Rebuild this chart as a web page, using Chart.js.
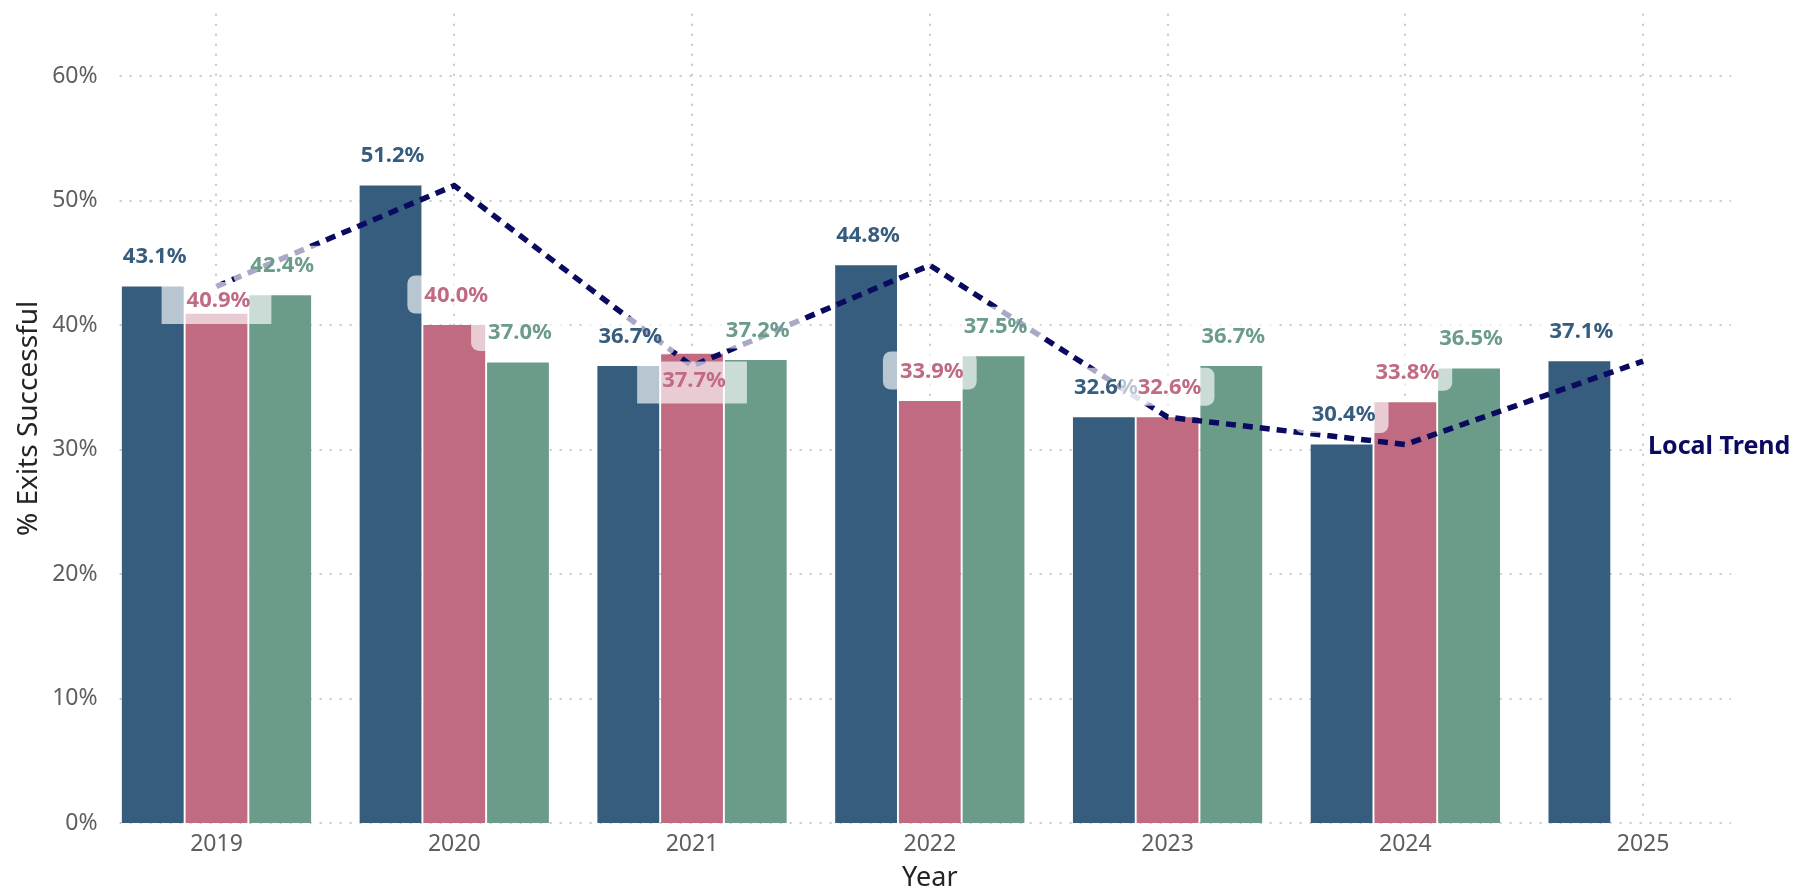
<!DOCTYPE html>
<html>
<head>
<meta charset="utf-8">
<script src="https://cdn.jsdelivr.net/npm/chart.js@4.4.1/dist/chart.umd.min.js"></script>
<style>
  html, body { margin: 0; padding: 0; background: #ffffff; }
  #wrap { width: 1797px; height: 895px; position: relative; }
</style>
</head>
<body>
<div id="wrap"><canvas id="c" width="1797" height="895"></canvas></div>
<script>
// ---- data ----
const years = ['2019', '2020', '2021', '2022', '2023', '2024', '2025'];
const seriesBlue  = [43.1, 51.2, 36.7, 44.8, 32.6, 30.4, 37.1];
const seriesPink  = [40.9, 40.0, 37.7, 33.9, 32.6, 33.8, null];
const seriesGreen = [42.4, 37.0, 37.2, 37.5, 36.7, 36.5, null];
const localTrend  = [43.1, 51.2, 36.7, 44.8, 32.6, 30.4, 37.1];
const yTicks = [0, 10, 20, 30, 40, 50, 60];
const trendName = 'Local Trend';
const yTitle = '% Exits Successful';
const xTitle = 'Year';

// ---- styles ----
const BLUE = '#365C7E', PINK = '#C06B82', GREEN = '#6B9B89', NAVY = '#0A0A60';
const FONT = '"Noto Sans", "Open Sans", sans-serif';
const barColors = [BLUE, PINK, GREEN];

const gridPlugin = {
  id: 'dotGrid',
  beforeDatasetsDraw(chart) {
    const { ctx, chartArea, scales: { x, y } } = chart;
    ctx.save();
    ctx.strokeStyle = '#C8C8C8';
    ctx.lineWidth = 2;
    ctx.setLineDash([2, 8]);
    const x0 = x.left + 22, x1 = x.right - 31;
    yTicks.forEach(v => {
      const py = Math.round(y.getPixelForValue(v));
      ctx.beginPath(); ctx.moveTo(x0, py); ctx.lineTo(x1, py); ctx.stroke();
    });
    years.forEach((_, i) => {
      const px = Math.round(x.getPixelForValue(i));
      ctx.beginPath(); ctx.moveTo(px, chartArea.top); ctx.lineTo(px, chartArea.bottom); ctx.stroke();
    });
    ctx.restore();
  }
};

const labelPlugin = {
  id: 'barLabels',
  afterDatasetsDraw(chart) {
    const ctx = chart.ctx;
    ctx.save();
    ctx.font = 'bold 22px ' + FONT;
    ctx.textAlign = 'center';
    ctx.textBaseline = 'middle';
    const barSets = [1, 2, 3];
    years.forEach((_, i) => {
      const placed = [];
      barSets.forEach((di, k) => {
        const v = chart.data.datasets[di].data[i];
        if (v == null) return;
        const el = chart.getDatasetMeta(di).data[i];
        let cy = el.y - 30.5;
        let moved = false;
        const prev = placed[placed.length - 1];
        if (prev && prev.k === k - 1) {
          const dy = Math.abs(cy - prev.y);
          if (dy > 3 && dy < 30) { cy = prev.y + 44; moved = true; }
        }
        placed.push({ k, y: cy });
        const text = v.toFixed(1) + '%';
        const tw = ctx.measureText(text).width;
        const bw = moved ? tw + 46 : tw + 30;
        const bh = moved ? 42 : 38;
        ctx.fillStyle = 'rgba(255,255,255,0.65)';
        ctx.beginPath();
        ctx.roundRect(el.x - bw / 2, cy - bh / 2 + (moved ? 3 : 0), bw, bh, moved ? 0 : 8);
        ctx.fill();
        ctx.fillStyle = barColors[k];
        ctx.fillText(text, el.x + 2, cy + 1);
      });
    });
    // series name at the end of the trend line
    const lineMeta = chart.getDatasetMeta(0);
    const last = lineMeta.data[lineMeta.data.length - 1];
    ctx.font = 'bold 25px ' + FONT;
    ctx.textAlign = 'left';
    ctx.fillStyle = NAVY;
    ctx.fillText(trendName, last.x + 5, last.y + 86);
    ctx.restore();
  }
};

new Chart(document.getElementById('c').getContext('2d'), {
  type: 'bar',
  data: {
    labels: years,
    datasets: [
      { type: 'line', label: trendName, data: localTrend, borderColor: NAVY, borderWidth: 5.5,
        borderDash: [10, 7], pointRadius: 0, fill: false, tension: 0, order: 0, borderCapStyle: 'butt' },
      { label: 'Blue', data: seriesBlue, backgroundColor: BLUE, order: 1, categoryPercentage: 0.804, barPercentage: 0.97 },
      { label: 'Pink', data: seriesPink, backgroundColor: PINK, order: 1, categoryPercentage: 0.804, barPercentage: 0.97 },
      { label: 'Green', data: seriesGreen, backgroundColor: GREEN, order: 1, categoryPercentage: 0.804, barPercentage: 0.97 }
    ]
  },
  options: {
    responsive: false,
    animation: false,
    devicePixelRatio: 1,
    layout: { padding: { top: 12, right: 35, left: 0, bottom: 0 } },
    plugins: { legend: { display: false }, tooltip: { enabled: false } },
    scales: {
      x: {
        grid: { display: false, drawTicks: false }, border: { display: false },
        ticks: { font: { family: FONT, size: 23 }, color: '#605E5C', padding: 8, maxRotation: 0 },
        title: { display: true, text: xTitle, font: { family: FONT, size: 27 }, color: '#252423', padding: { top: 0, bottom: 0 } },
        afterFit(s) { s.height = 72; }
      },
      y: {
        min: 0, max: 65,
        grid: { display: false, drawTicks: false }, border: { display: false },
        ticks: { stepSize: 10, padding: 0, font: { family: FONT, size: 23 }, color: '#605E5C', callback: v => v + '%' },
        afterBuildTicks(s) { s.ticks = yTicks.map(v => ({ value: v })); },
        title: { display: true, text: yTitle, font: { family: FONT, size: 28 }, color: '#252423', padding: { top: 12, bottom: 0 } },
        afterFit(s) { s.width = 97.6; }
      }
    }
  },
  plugins: [gridPlugin, labelPlugin]
});
</script>
</body>
</html>
